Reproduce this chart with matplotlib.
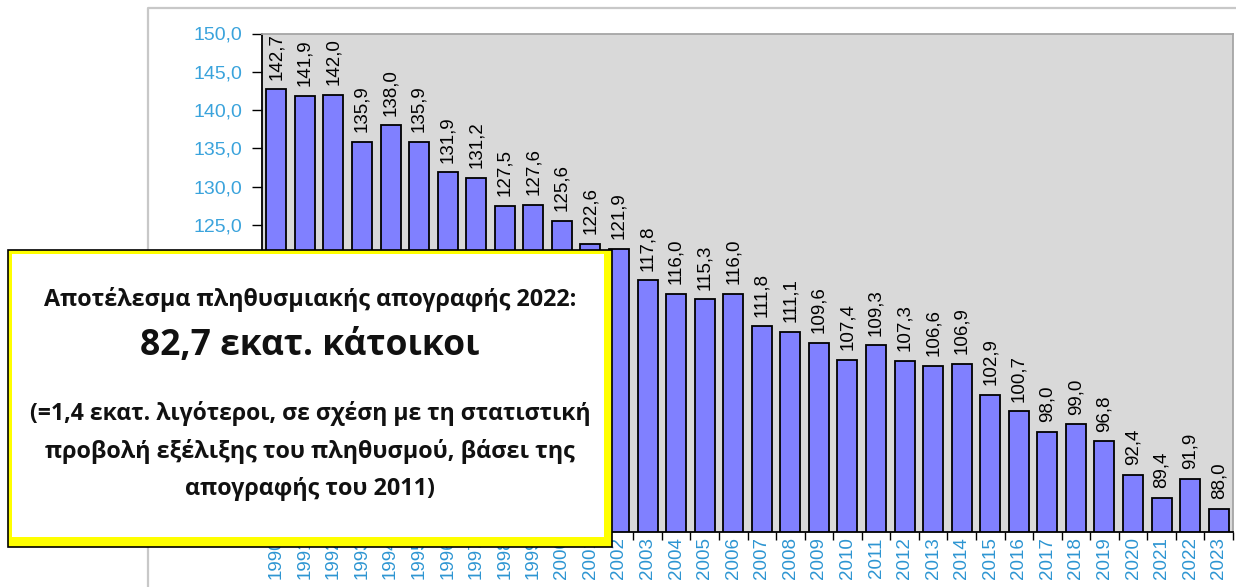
import matplotlib
matplotlib.use("Agg")
import matplotlib.pyplot as plt
from matplotlib.patches import Rectangle
from matplotlib.ticker import FixedLocator, FuncFormatter

years = [str(y) for y in range(1990, 2024)]
values = [142.7, 141.9, 142.0, 135.9, 138.0, 135.9, 131.9, 131.2, 127.5, 127.6,
          125.6, 122.6, 121.9, 117.8, 116.0, 115.3, 116.0, 111.8, 111.1, 109.6,
          107.4, 109.3, 107.3, 106.6, 106.9, 102.9, 100.7, 98.0, 99.0, 96.8,
          92.4, 89.4, 91.9, 88.0]
y_ticks = [85, 90, 95, 100, 105, 110, 115, 120, 125, 130, 135, 140, 145, 150]

box_lines = [
    ("Αποτέλεσμα πληθυσμιακής απογραφής 2022:", 16.8, 300),
    ("82,7 εκατ. κάτοικοι", 25.5, 346),
    ("(=1,4 εκατ. λιγότεροι, σε σχέση με τη στατιστική", 16.6, 414),
    ("προβολή εξέλιξης του πληθυσμού, βάσει της", 16.8, 451),
    ("απογραφής του 2011)", 16.8, 489),
]

W, H = 1236, 587
fig = plt.figure(figsize=(W / 100, H / 100), dpi=100)
fig.patch.set_facecolor("white")

# background frame (chart area)
bg = fig.add_axes([0, 0, 1, 1], zorder=0)
bg.set_xlim(0, W)
bg.set_ylim(H, 0)
bg.axis("off")
bg.plot([148, 148, W], [H, 8, 8], color="#C8C8C8", lw=1.6, solid_capstyle="butt")

left, right, top, bottom = 262, 1233, 33.5, 531.7
ax = fig.add_axes([left / W, 1 - bottom / H, (right - left) / W, (bottom - top) / H], zorder=1)
ax.set_facecolor("#D9D9D9")
x = list(range(len(years)))
ax.bar(x, values, width=0.7, color="#8080FF", edgecolor="black", linewidth=1.3, zorder=2)
ax.set_xlim(-0.5, len(years) - 0.5)
ax.set_ylim(85, 150)

for xi, v in zip(x, values):
    ax.annotate(f"{v:.1f}".replace(".", ","), (xi, v), xytext=(0, 7), textcoords="offset points",
                rotation=90, ha="center", va="bottom", fontsize=13.5, family="Liberation Sans",
                color="black", zorder=3)

visible_from = 125  # lower tick labels are hidden behind the text box
ax.yaxis.set_major_locator(FixedLocator(y_ticks))
ax.yaxis.set_major_formatter(FuncFormatter(
    lambda v, p: f"{v:.1f}".replace(".", ",") if v >= visible_from else ""))
ax.tick_params(axis="y", direction="out", length=7, width=1, colors="black",
               labelcolor="#3AA3DC", labelsize=14, pad=7)
for lab in ax.get_yticklabels():
    lab.set_family("Liberation Sans")

ax.set_xticks(x)
ax.set_xticklabels(years, rotation=90, family="Liberation Sans", fontsize=13.5, color="#2D95D2")
ax.set_xticks([i - 0.5 for i in range(len(years) + 1)], minor=True)
ax.tick_params(axis="x", which="major", length=0, pad=4)
ax.tick_params(axis="x", which="minor", direction="out", length=6, width=1, colors="black")

for s in ["left", "bottom"]:
    ax.spines[s].set_color("black")
    ax.spines[s].set_linewidth(1.3)
for s in ["top", "right"]:
    ax.spines[s].set_color("#A6A6A6")
    ax.spines[s].set_linewidth(1.3)

# overlay text box
ov = fig.add_axes([0, 0, 1, 1], zorder=5)
ov.set_xlim(0, W)
ov.set_ylim(H, 0)
ov.axis("off")
ov.add_patch(Rectangle((8, 250), 604, 297, facecolor="#FFFF00", edgecolor="black", lw=1.2))
ov.add_patch(Rectangle((12, 254), 592, 283, facecolor="white", edgecolor="none"))
for txt, fs, yy in box_lines:
    ov.text(310, yy, txt, ha="center", va="center", fontsize=fs, fontweight="bold",
            family=["Open Sans", "Noto Sans", "DejaVu Sans"], color="#111111")

fig.savefig("out.png", dpi=100)
